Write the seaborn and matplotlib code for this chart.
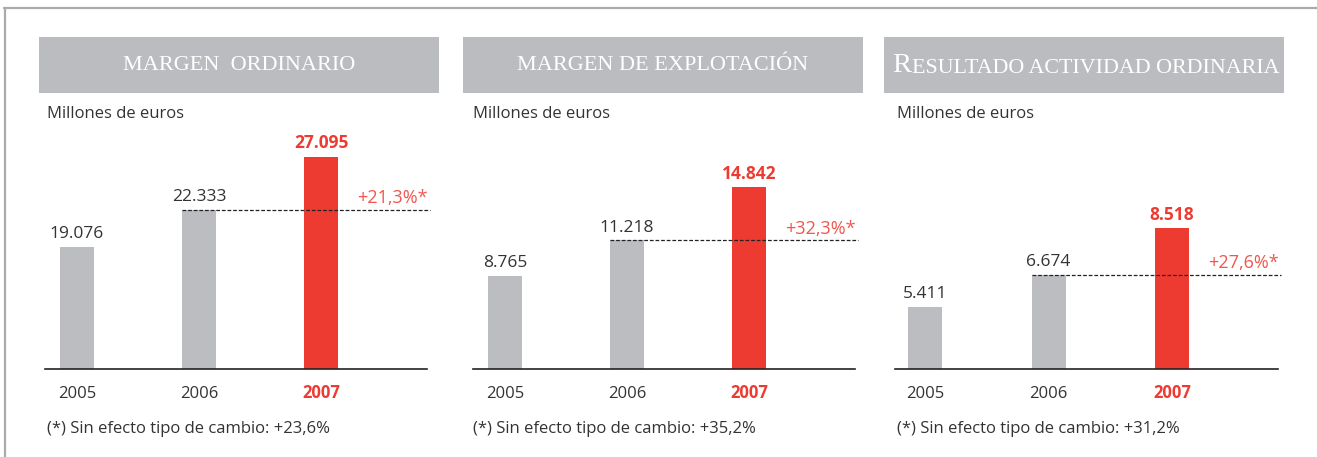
import matplotlib
matplotlib.use("Agg")
import matplotlib.pyplot as plt
import seaborn as sns
from matplotlib.lines import Line2D
from matplotlib.patches import Rectangle
from matplotlib.text import Annotation
from matplotlib.transforms import ScaledTranslation

# ---------------- data ----------------
years = ["2005", "2006", "2007"]
margen_ordinario = [19076, 22333, 27095]
margen_explotacion = [8765, 11218, 14842]
resultado_actividad = [5411, 6674, 8518]
value_labels_1 = ["19.076", "22.333", "27.095"]
value_labels_2 = ["8.765", "11.218", "14.842"]
value_labels_3 = ["5.411", "6.674", "8.518"]
pct_labels = ["+21,3%*", "+32,3%*", "+27,6%*"]
footnotes = ["(*) Sin efecto tipo de cambio: +23,6%",
             "(*) Sin efecto tipo de cambio: +35,2%",
             "(*) Sin efecto tipo de cambio: +31,2%"]
titles = ["MARGEN  ORDINARIO", "MARGEN DE EXPLOTACIÓN", "RESULTADO ACTIVIDAD ORDINARIA"]
unit_label = "Millones de euros"

# ---------------- style ----------------
W, H = 1317, 457
GRAY = "#bcbdc0"
RED = "#ee3b32"
PCTRED = "#f0564d"
TXT = "#333333"
HEADER = "#bbbcbf"

sns.set_theme(style="white")
plt.rcParams["font.family"] = ["Open Sans", "DejaVu Sans"]

fig = plt.figure(figsize=(W / 100, H / 100), dpi=100)
fig.patch.set_facecolor("white")

def fx(px):
    return px / W

def fy(py):
    return 1 - py / H

# frame lines
fig.add_artist(Line2D([fx(4), fx(1317)], [fy(7.5), fy(7.5)], color="#aaaaaa", lw=1.6))
fig.add_artist(Line2D([fx(4.5), fx(4.5)], [fy(7.5), fy(457)], color="#aaaaaa", lw=1.6))

# panel layout (pixels) and vertical scale of each panel
panels = [
    dict(c0=77, sp=122, lo=32, hx0=39, hx1=439, tx=47, v0=8104, s=0.011155),
    dict(c0=505, sp=122, lo=32, hx0=463, hx1=863, tx=473, v0=2405, s=0.014596),
    dict(c0=925, sp=123.5, lo=30, hx0=884, hx1=1284, tx=897, v0=2935, s=0.025172),
]
series = [margen_ordinario, margen_explotacion, resultado_actividad]
vlabels = [value_labels_1, value_labels_2, value_labels_3]

BASE = 369
TOP = 120

for i, p in enumerate(panels):
    vals = series[i]
    sp = p["sp"]
    left = p["c0"] - p["lo"]
    right = p["c0"] + 2 * sp + 106
    ax = fig.add_axes([fx(left), fy(BASE), (right - left) / W, (BASE - TOP) / H])
    sns.barplot(x=years, y=vals, hue=years, palette=[GRAY, GRAY, RED],
                legend=False, width=34 / sp, saturation=1, ax=ax, linewidth=0)
    ax.set_xlim(-p["lo"] / sp, 2 + 106 / sp)
    ax.set_ylim(p["v0"], p["v0"] + (BASE - TOP) / p["s"])
    for side in ["top", "right", "left"]:
        ax.spines[side].set_visible(False)
    ax.spines["bottom"].set_color("#222222")
    ax.spines["bottom"].set_linewidth(1.2)
    ax.set_yticks([])
    ax.set_xlabel("")
    ax.set_ylabel("")
    ax.patch.set_alpha(0)
    ax.tick_params(axis="x", length=0, pad=12, labelsize=12, labelcolor=TXT)
    for j, lab in enumerate(ax.get_xticklabels()):
        if j == 2:
            lab.set_color(RED)
            lab.set_fontweight("bold")
            lab.set_transform(lab.get_transform() +
                              ScaledTranslation(0, 2 / 100, fig.dpi_scale_trans))
    # value labels
    for j, v in enumerate(vals):
        bold = j == 2
        ax.annotate(vlabels[i][j], xy=(j, v), xytext=(0, 3.5), textcoords="offset points",
                    ha="center", va="bottom", fontsize=12.5,
                    color=RED if bold else TXT,
                    fontweight="bold" if bold else "normal", annotation_clip=False)
    # dashed reference line at the 2006 level
    xend = 2 + 109 / sp
    ax.plot([1 - 17 / sp, xend], [vals[1], vals[1]], ls=(0, (3, 1.5)), color="#222222",
            lw=0.9, clip_on=False, zorder=3)
    ax.annotate(pct_labels[i], xy=(xend - 2 / sp, vals[1]), xytext=(0, 2), textcoords="offset points",
                ha="right", va="bottom", fontsize=13, color=PCTRED, annotation_clip=False)

    # header box
    fig.add_artist(Rectangle((fx(p["hx0"]), fy(93)), (p["hx1"] - p["hx0"]) / W, 56 / H,
                             facecolor=HEADER, edgecolor="none"))
    # unit label
    fig.text(fx(p["tx"]), fy(114), unit_label, ha="left", va="center", fontsize=12, color=TXT)
    # footnote
    fig.text(fx(p["tx"]), fy(429), footnotes[i], ha="left", va="center", fontsize=12, color=TXT)

# header titles
serif = ["Liberation Serif", "DejaVu Serif"]
for i in range(2):
    p = panels[i]
    fig.text(fx((p["hx0"] + p["hx1"]) / 2), fy(66), titles[i], ha="center", va="center",
             fontsize=16, color="white", family=serif)
# small-caps style third title
t3 = titles[2]
r = fig.text(fx(892), fy(78), t3[0], ha="left", va="bottom", fontsize=20.5,
             color="white", family=serif)
fig.add_artist(Annotation(t3[1:], xy=(1, 0), xycoords=r, xytext=(0.5, 0),
                          textcoords="offset points", ha="left", va="bottom",
                          fontsize=15.8, color="white", family=serif))

fig.savefig("out.png", dpi=100, facecolor="white")
